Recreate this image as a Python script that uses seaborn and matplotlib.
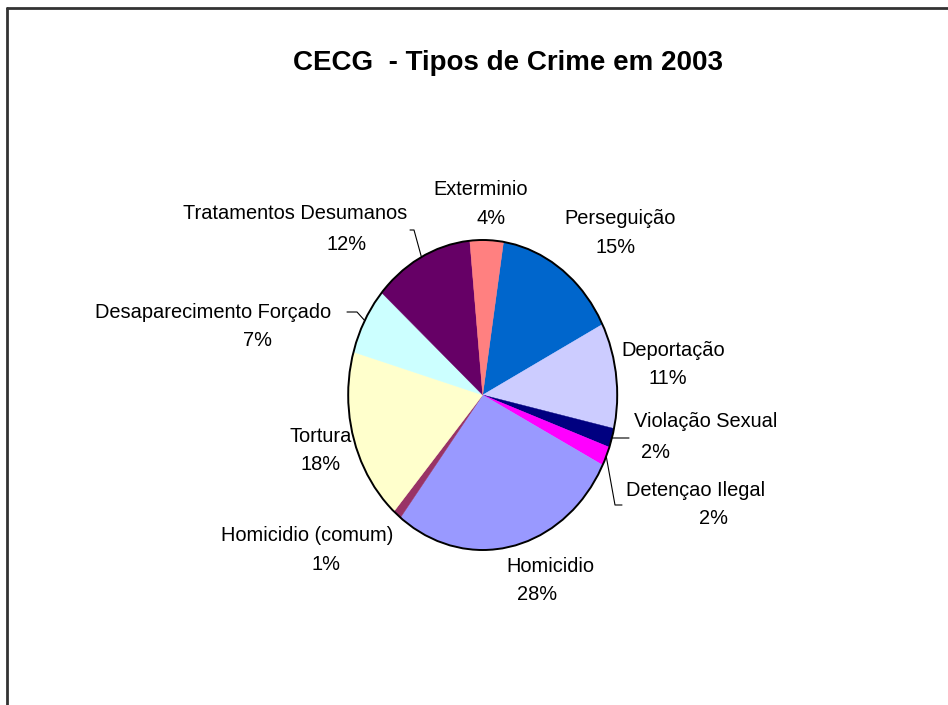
import matplotlib
matplotlib.use("Agg")
import matplotlib.pyplot as plt
from matplotlib.lines import Line2D
from matplotlib.patches import Circle
import numpy as np
import seaborn as sns

# ---- data -------------------------------------------------------------
categories = [
    "Perseguição", "Deportação", "Violação Sexual", "Detençao Ilegal",
    "Homicidio", "Homicidio (comum)", "Tortura",
    "Desaparecimento Forçado", "Tratamentos Desumanos", "Exterminio",
]
shares = [15, 11, 2, 2, 28, 1, 18, 7, 12, 4]
slice_colors = [
    "#0066CC", "#CCCCFF", "#000080", "#FF00FF", "#9999FF",
    "#993366", "#FFFFCC", "#CCFFFF", "#660066", "#FF8080",
]
title = "CECG  - Tipos de Crime em 2003"

# ---- label layout (pixel positions, y measured from the top) ----------
# (name line centre, percent line centre)
label_pos = {
    "Perseguição": ((620, 217), (616, 246)),
    "Deportação": ((673, 349), (668, 377)),
    "Violação Sexual": ((706, 420), (655, 451)),
    "Detençao Ilegal": ((696, 489), (713, 517)),
    "Homicidio": ((550, 565), (537, 593)),
    "Homicidio (comum)": ((307, 534), (326, 563)),
    "Tortura": ((321, 435), (321, 463)),
    "Desaparecimento Forçado": ((213, 311), (257, 339)),
    "Tratamentos Desumanos": ((295, 212), (347, 243)),
    "Exterminio": ((481, 188), (491, 217)),
}
# leader line elbows for the labels that sit away from their slice
leader_pts = {
    "Tratamentos Desumanos": [(414, 230), (410, 230)],
    "Desaparecimento Forçado": [(357, 312), (347, 312)],
    "Violação Sexual": [(620, 438), (629, 438)],
    "Detençao Ilegal": [(615, 505), (622, 505)],
}

W, H = 948, 705
DPI = 100

sns.set_theme(style="white")
plt.rcParams["font.family"] = ["Liberation Sans", "DejaVu Sans"]

fig = plt.figure(figsize=(W / DPI, H / DPI), dpi=DPI)
fig.patch.set_facecolor("white")

# pie area: centre and radii in pixels (slightly taller than wide)
cx, cy = 482.7, 395.0
rx, ry = 134.5, 155.0
pad = 1.25
ax = fig.add_axes([
    (cx - pad * rx) / W,
    (H - cy - pad * ry) / H,
    2 * pad * rx / W,
    2 * pad * ry / H,
])

wedges, _ = ax.pie(
    shares,
    colors=slice_colors,
    startangle=81.1,
    counterclock=False,
    wedgeprops=dict(linewidth=0),
)
for w, c in zip(wedges, slice_colors):
    w.set_edgecolor(c)
    w.set_linewidth(0.3)
ax.set_aspect("auto")
ax.set_xlim(-pad, pad)
ax.set_ylim(-pad, pad)
ax.axis("off")
ax.add_patch(Circle((0, 0), 1.0, fill=False, edgecolor="black", linewidth=1.4, zorder=5))


def px(x, y):
    """Pixel position (origin top-left) to figure fraction."""
    return x / W, 1 - y / H


total = sum(shares)
fs = 14.4
for name, val in zip(categories, shares):
    (x1, y1), (x2, y2) = label_pos[name]
    fig.text(*px(x1, y1 + 1.5), name, ha="center", va="center", fontsize=fs, color="black")
    fig.text(*px(x2, y2 + 1.5), f"{round(100 * val / total)}%", ha="center", va="center",
             fontsize=fs, color="black")

# leader lines start on the rim at each slice's mid-angle
inv = fig.transFigure.inverted()
for w, name in zip(wedges, categories):
    if name not in leader_pts:
        continue
    mid = np.deg2rad((w.theta1 + w.theta2) / 2)
    edge_disp = ax.transData.transform((np.cos(mid), np.sin(mid)))
    ex, ey = inv.transform(edge_disp)
    pts = [(ex, ey)] + [px(*p) for p in leader_pts[name]]
    xs, ys = zip(*pts)
    fig.add_artist(Line2D(xs, ys, transform=fig.transFigure, color="black", linewidth=0.8))

fig.text(*px(508, 63), title, ha="center", va="center", fontsize=20, fontweight="bold",
         color="black")

# chart frame (top and left edges)
frame_kw = dict(transform=fig.transFigure, color="#333333", linewidth=2.0)
fig.add_artist(Line2D([6.5 / W, 1.0], [1 - 7.5 / H, 1 - 7.5 / H], **frame_kw))
fig.add_artist(Line2D([6.5 / W, 6.5 / W], [1 - 7.5 / H, 0.0], **frame_kw))

fig.savefig("out.png", dpi=DPI, facecolor="white")
